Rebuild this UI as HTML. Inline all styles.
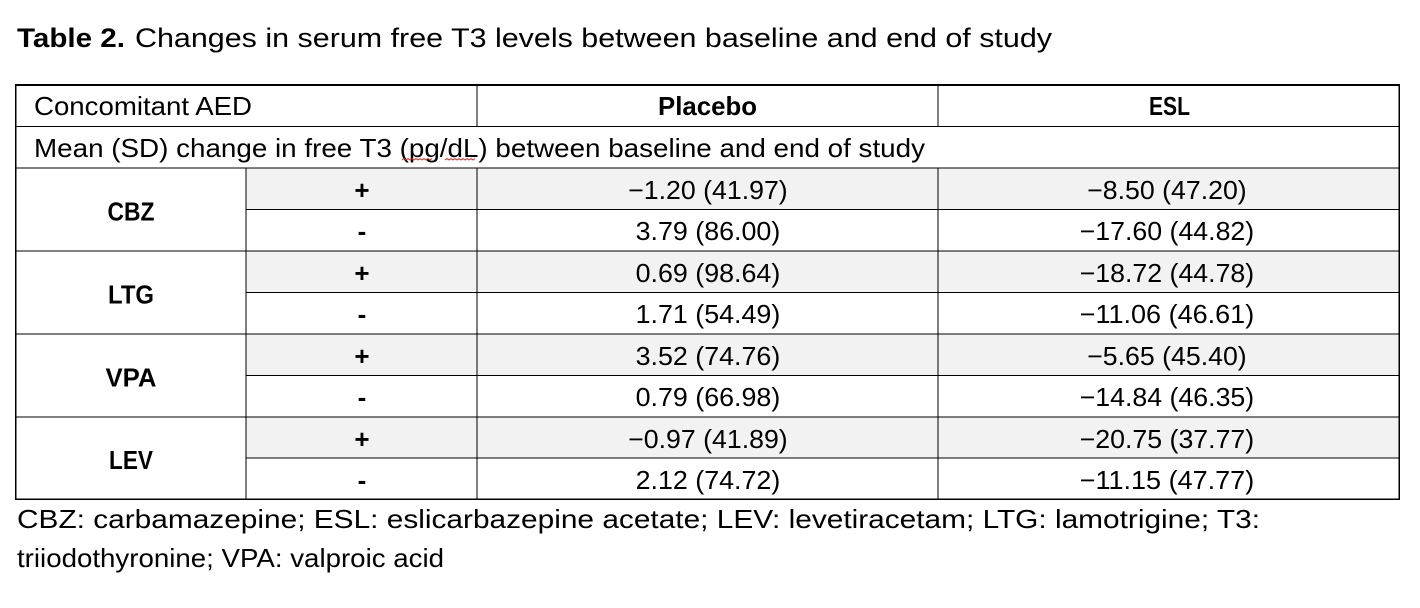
<!DOCTYPE html>
<html>
<head>
<meta charset="utf-8">
<style>
  html,body{margin:0;padding:0;background:#fff;}
  body{width:1420px;height:608px;overflow:hidden;}
  svg{display:block;}
  text{font-family:"Liberation Sans", Arial, sans-serif; fill:#000;}
  .r{font-size:26px;}
  .b{font-size:26px;font-weight:bold;}
  .t{font-size:27px;}
</style>
</head>
<body>
<svg width="1420" height="608" viewBox="0 0 1420 608" xmlns="http://www.w3.org/2000/svg">
  <rect x="0" y="0" width="1420" height="608" fill="#fff"/>

  <!-- Title -->
  <text class="t" x="17" y="47" font-weight="bold" textLength="108" lengthAdjust="spacingAndGlyphs">Table 2.</text>
  <text class="t" x="135" y="47" textLength="917" lengthAdjust="spacingAndGlyphs">Changes in serum free T3 levels between baseline and end of study</text>

  <!-- grey fills for "+" rows -->
  <g fill="#f2f2f2">
    <rect x="246" y="168" width="1153" height="41.5"/>
    <rect x="246" y="251" width="1153" height="41.5"/>
    <rect x="246" y="334" width="1153" height="41.5"/>
    <rect x="246" y="417" width="1153" height="41"/>
  </g>

  <!-- horizontal lines -->
  <g fill="#000">
    <rect x="15" y="84" width="1385" height="2"/>
    <rect x="15" y="126" width="1385" height="1"/>
    <rect x="15" y="167.5" width="1385" height="1"/>
    <rect x="246" y="209" width="1154" height="1"/>
    <rect x="15" y="250.5" width="1385" height="1"/>
    <rect x="246" y="292" width="1154" height="1"/>
    <rect x="15" y="333.5" width="1385" height="1"/>
    <rect x="246" y="375" width="1154" height="1"/>
    <rect x="15" y="416.5" width="1385" height="1"/>
    <rect x="246" y="457.5" width="1154" height="1"/>
    <rect x="15" y="498.5" width="1385" height="1.5"/>
    <!-- vertical lines -->
    <rect x="15" y="84" width="1.5" height="416"/>
    <rect x="1398.5" y="84" width="1.5" height="416"/>
    <rect x="245.5" y="167.5" width="1" height="332"/>
    <rect x="476.5" y="84" width="1" height="42"/>
    <rect x="476.5" y="167.5" width="1" height="332"/>
    <rect x="937.5" y="84" width="1" height="42"/>
    <rect x="937.5" y="167.5" width="1" height="332"/>
  </g>

  <!-- header row -->
  <text class="r" x="34" y="115" textLength="218" lengthAdjust="spacingAndGlyphs">Concomitant AED</text>
  <text class="b" x="658" y="115" textLength="99" lengthAdjust="spacingAndGlyphs">Placebo</text>
  <text class="b" x="1149" y="115" textLength="41" lengthAdjust="spacingAndGlyphs">ESL</text>

  <!-- merged row -->
  <text class="r" x="34" y="157" textLength="891" lengthAdjust="spacingAndGlyphs">Mean (SD) change in free T3 (pg/dL) between baseline and end of study</text>
  <polyline points="402,160 404,158.5 406,160 408,158.5 410,160 412,158.5 414,160 416,158.5 418,160 420,158.5 422,160 424,158.5 426,160 428,158.5 430,160 432,158.5" fill="none" stroke="#e02020" stroke-width="0.9"/>
  <polyline points="445,160 447,158.5 449,160 451,158.5 453,160 455,158.5 457,160 459,158.5 461,160 463,158.5 465,160 467,158.5 469,160 471,158.5 473,160 475,158.5" fill="none" stroke="#e02020" stroke-width="0.9"/>

  <!-- group labels -->
  <text class="b" x="107.5" y="220.5" textLength="47" lengthAdjust="spacingAndGlyphs">CBZ</text>
  <text class="b" x="108" y="303.5" textLength="46" lengthAdjust="spacingAndGlyphs">LTG</text>
  <text class="b" x="105.5" y="386.5" textLength="51" lengthAdjust="spacingAndGlyphs">VPA</text>
  <text class="b" x="109" y="469" textLength="44" lengthAdjust="spacingAndGlyphs">LEV</text>

  <!-- +/- column -->
  <g class="b" text-anchor="middle">
    <text x="362" y="199">+</text>
    <text x="362" y="240">-</text>
    <text x="362" y="282">+</text>
    <text x="362" y="323">-</text>
    <text x="362" y="365">+</text>
    <text x="362" y="406">-</text>
    <text x="362" y="448">+</text>
    <text x="362" y="489">-</text>
  </g>

  <!-- Placebo values (center 708) -->
  <g class="r">
    <text x="628.2" y="199" textLength="159.5" lengthAdjust="spacingAndGlyphs">−1.20 (41.97)</text>
    <text x="635.6" y="240" textLength="144.7" lengthAdjust="spacingAndGlyphs">3.79 (86.00)</text>
    <text x="635.6" y="282" textLength="144.7" lengthAdjust="spacingAndGlyphs">0.69 (98.64)</text>
    <text x="635.6" y="323" textLength="144.7" lengthAdjust="spacingAndGlyphs">1.71 (54.49)</text>
    <text x="635.6" y="365" textLength="144.7" lengthAdjust="spacingAndGlyphs">3.52 (74.76)</text>
    <text x="635.6" y="406" textLength="144.7" lengthAdjust="spacingAndGlyphs">0.79 (66.98)</text>
    <text x="628.2" y="448" textLength="159.5" lengthAdjust="spacingAndGlyphs">−0.97 (41.89)</text>
    <text x="635.6" y="489" textLength="144.7" lengthAdjust="spacingAndGlyphs">2.12 (74.72)</text>
  </g>

  <!-- ESL values (center 1167) -->
  <g class="r">
    <text x="1087.2" y="199" textLength="159.5" lengthAdjust="spacingAndGlyphs">−8.50 (47.20)</text>
    <text x="1079.7" y="240" textLength="174.5" lengthAdjust="spacingAndGlyphs">−17.60 (44.82)</text>
    <text x="1079.7" y="282" textLength="174.5" lengthAdjust="spacingAndGlyphs">−18.72 (44.78)</text>
    <text x="1079.7" y="323" textLength="174.5" lengthAdjust="spacingAndGlyphs">−11.06 (46.61)</text>
    <text x="1087.2" y="365" textLength="159.5" lengthAdjust="spacingAndGlyphs">−5.65 (45.40)</text>
    <text x="1079.7" y="406" textLength="174.5" lengthAdjust="spacingAndGlyphs">−14.84 (46.35)</text>
    <text x="1079.7" y="448" textLength="174.5" lengthAdjust="spacingAndGlyphs">−20.75 (37.77)</text>
    <text x="1079.7" y="489" textLength="174.5" lengthAdjust="spacingAndGlyphs">−11.15 (47.77)</text>
  </g>

  <!-- footnote -->
  <text class="r" x="17" y="528" textLength="1243" lengthAdjust="spacingAndGlyphs">CBZ: carbamazepine; ESL: eslicarbazepine acetate; LEV: levetiracetam; LTG: lamotrigine; T3:</text>
  <text class="r" x="17" y="567" textLength="427" lengthAdjust="spacingAndGlyphs">triiodothyronine; VPA: valproic acid</text>
</svg>
</body>
</html>
